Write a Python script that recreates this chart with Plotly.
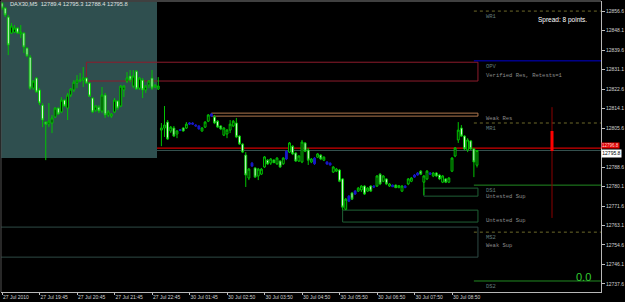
import plotly.graph_objects as go

# ---------------- data ----------------
opens = [12860.1, 12857.9, 12854.0, 12847.0, 12847.4, 12849.2, 12846.6, 12847.0, 12840.5, 12836.5,
         12823.0, 12827.4, 12822.2, 12815.6, 12808.2, 12807.3, 12807.8, 12810.4, 12814.3, 12812.6,
         12817.8, 12814.3, 12820.0, 12822.2, 12825.2, 12826.1, 12826.5, 12827.4, 12825.2, 12818.7,
         12813.4, 12814.7, 12813.0, 12820.0, 12811.3, 12810.8, 12812.6, 12817.4, 12815.2, 12822.2,
         12826.1, 12828.3, 12823.9, 12830.4, 12823.0, 12826.5, 12822.2, 12824.3, 12827.4, 12823.5,
         12822.6, 12804.7, 12805.6, 12808.2, 12804.3, 12805.6, 12803.0, 12804.9, 12805.6, 12805.6,
         12807.3, 12807.8, 12806.9, 12806.5, 12804.3, 12806.0, 12808.6, 12811.7, 12810.4, 12808.6,
         12806.5, 12802.5, 12803.0, 12804.7, 12806.5, 12807.8, 12802.1, 12798.6, 12793.8, 12783.8,
         12790.3, 12788.2, 12784.7, 12785.5, 12788.6, 12791.6, 12790.3, 12791.6, 12790.0, 12791.2,
         12790.0, 12792.1, 12795.1, 12797.7, 12794.7, 12791.2, 12790.8, 12799.1, 12796.0, 12790.8,
         12792.5, 12792.9, 12793.8, 12791.6, 12790.8, 12790.3, 12786.4, 12786.8, 12787.3, 12783.4,
         12770.2, 12773.7, 12777.3, 12778.1, 12778.1, 12778.6, 12780.3, 12778.1, 12780.3, 12780.3,
         12780.3, 12785.5, 12782.4, 12783.4, 12780.3, 12780.7, 12780.7, 12779.6, 12778.1, 12780.3,
         12781.2, 12782.4, 12784.2, 12785.1, 12786.8, 12782.0, 12783.4, 12786.0, 12784.7, 12786.0,
         12785.1, 12782.0, 12783.4, 12782.0, 12786.8, 12793.4, 12800.4, 12805.6, 12802.1, 12796.0,
         12800.0, 12796.5, 12789.4]
highs = [12860.5, 12858.3, 12854.9, 12851.4, 12850.5, 12849.6, 12850.5, 12847.4, 12840.9, 12837.4,
         12826.5, 12827.8, 12823.0, 12816.5, 12808.6, 12816.5, 12811.3, 12814.7, 12814.7, 12819.1,
         12818.2, 12820.9, 12823.0, 12826.5, 12828.7, 12829.6, 12832.2, 12827.8, 12825.6, 12819.1,
         12815.6, 12815.6, 12823.5, 12820.9, 12813.4, 12812.1, 12818.7, 12817.8, 12824.3, 12824.3,
         12830.0, 12830.9, 12830.9, 12830.9, 12827.8, 12827.4, 12824.3, 12826.5, 12830.9, 12824.7,
         12827.8, 12807.8, 12815.2, 12809.1, 12806.5, 12806.5, 12804.7, 12805.2, 12806.0, 12808.2,
         12808.2, 12808.2, 12807.3, 12806.9, 12806.0, 12808.6, 12811.7, 12812.1, 12811.3, 12809.1,
         12806.9, 12806.0, 12805.2, 12809.1, 12809.1, 12810.0, 12802.5, 12799.1, 12795.1, 12788.2,
         12790.8, 12788.6, 12788.2, 12788.2, 12793.4, 12792.1, 12792.5, 12792.0, 12792.9, 12791.6,
         12792.9, 12796.0, 12799.5, 12798.2, 12795.1, 12793.8, 12800.4, 12799.5, 12796.9, 12792.5,
         12792.9, 12794.7, 12794.2, 12793.3, 12791.2, 12790.6, 12789.0, 12788.2, 12787.7, 12783.8,
         12775.1, 12776.4, 12777.7, 12778.6, 12779.9, 12780.7, 12780.7, 12779.9, 12780.7, 12780.7,
         12785.1, 12786.0, 12785.1, 12783.8, 12781.6, 12781.0, 12781.0, 12780.7, 12780.7, 12780.7,
         12783.8, 12784.2, 12785.5, 12786.4, 12787.3, 12785.1, 12787.3, 12786.4, 12786.4, 12786.4,
         12785.5, 12785.1, 12783.8, 12784.2, 12792.9, 12797.3, 12808.2, 12806.9, 12802.5, 12801.2,
         12800.4, 12796.9, 12795.8]
lows = [12857.0, 12854.0, 12837.4, 12846.6, 12847.0, 12846.6, 12844.8, 12838.3, 12836.5, 12822.2,
        12822.2, 12820.9, 12815.6, 12806.0, 12791.6, 12806.0, 12803.4, 12810.0, 12811.3, 12812.1,
        12814.7, 12809.1, 12819.1, 12821.3, 12823.0, 12825.6, 12823.5, 12824.8, 12819.1, 12812.1,
        12812.6, 12812.1, 12812.1, 12810.0, 12810.4, 12810.0, 12812.1, 12813.4, 12814.7, 12819.1,
        12825.2, 12825.6, 12823.0, 12822.2, 12822.2, 12818.7, 12820.9, 12823.0, 12822.2, 12823.0,
        12822.2, 12797.7, 12801.7, 12800.4, 12803.4, 12801.7, 12801.2, 12804.3, 12804.0, 12805.2,
        12806.9, 12807.0, 12806.2, 12804.9, 12804.0, 12805.6, 12808.2, 12810.4, 12807.3, 12805.6,
        12804.7, 12802.1, 12801.2, 12803.4, 12806.0, 12801.2, 12798.2, 12794.7, 12779.9, 12782.9,
        12788.6, 12783.8, 12782.9, 12785.1, 12788.2, 12789.5, 12789.5, 12790.3, 12789.5, 12788.2,
        12789.5, 12791.6, 12794.7, 12793.8, 12790.8, 12790.8, 12790.3, 12795.1, 12789.5, 12790.3,
        12789.5, 12792.5, 12791.6, 12791.2, 12789.5, 12789.2, 12786.0, 12786.4, 12782.0, 12769.8,
        12769.8, 12773.3, 12774.2, 12776.4, 12777.7, 12777.7, 12776.4, 12777.7, 12777.7, 12779.4,
        12779.9, 12780.7, 12782.0, 12780.7, 12779.9, 12779.9, 12779.4, 12779.4, 12777.7, 12779.4,
        12780.7, 12782.0, 12783.9, 12784.8, 12785.1, 12776.4, 12782.9, 12785.1, 12784.2, 12784.2,
        12782.9, 12781.6, 12781.6, 12781.6, 12786.4, 12792.9, 12799.1, 12801.7, 12796.0, 12795.1,
        12796.0, 12784.2, 12788.4]
closes = [12857.9, 12854.9, 12841.8, 12850.1, 12849.2, 12847.0, 12847.4, 12840.9, 12837.0, 12823.0,
          12826.1, 12821.3, 12816.5, 12809.1, 12807.3, 12808.6, 12810.0, 12814.3, 12811.7, 12817.8,
          12815.2, 12820.0, 12822.6, 12825.6, 12826.5, 12826.5, 12827.4, 12825.2, 12819.5, 12812.6,
          12815.2, 12813.0, 12820.0, 12811.3, 12812.6, 12811.7, 12817.8, 12814.3, 12823.9, 12823.9,
          12827.4, 12826.5, 12828.3, 12822.6, 12827.4, 12822.2, 12823.9, 12826.1, 12823.0, 12824.3,
          12823.9, 12805.6, 12806.9, 12800.8, 12806.0, 12802.1, 12804.3, 12804.5, 12804.3, 12807.3,
          12807.8, 12807.3, 12806.5, 12805.2, 12805.6, 12808.2, 12811.3, 12810.8, 12807.8, 12806.0,
          12805.2, 12805.6, 12804.7, 12807.3, 12808.6, 12801.7, 12798.6, 12795.1, 12785.1, 12787.7,
          12789.0, 12784.2, 12787.7, 12787.7, 12793.0, 12789.9, 12792.1, 12790.5, 12792.5, 12788.6,
          12792.5, 12795.5, 12799.1, 12794.3, 12791.2, 12793.4, 12799.5, 12795.5, 12791.6, 12792.1,
          12790.0, 12794.3, 12792.1, 12792.9, 12789.9, 12789.5, 12788.6, 12787.7, 12782.4, 12771.1,
          12774.6, 12775.9, 12774.6, 12776.8, 12779.4, 12780.3, 12776.8, 12779.4, 12778.1, 12779.9,
          12784.7, 12781.2, 12784.7, 12781.2, 12781.2, 12780.0, 12779.6, 12780.5, 12780.3, 12779.6,
          12783.4, 12783.8, 12785.1, 12786.0, 12785.5, 12784.7, 12786.8, 12785.5, 12786.0, 12784.7,
          12783.4, 12784.7, 12782.0, 12783.8, 12792.5, 12796.9, 12804.7, 12802.1, 12796.5, 12800.4,
          12796.5, 12790.8, 12795.8]
blue_bars = [57, 60, 61, 62, 63, 67, 80, 91, 100, 104, 105, 111, 113, 119, 125, 129, 132, 133, 137]

time_labels = ["27 Jul 2010", "27 Jul 19:45", "27 Jul 20:45", "27 Jul 21:45", "27 Jul 22:45",
               "30 Jul 01:45", "30 Jul 02:50", "30 Jul 03:50", "30 Jul 04:50", "30 Jul 05:50",
               "30 Jul 06:50", "30 Jul 07:50", "30 Jul 08:50"]
label_bars = [0, 12, 24, 36, 48, 60, 72, 84, 96, 108, 120, 132, 144]
# 12797.1 is hidden under the price tags in the reference
price_ticks = [12856.6, 12848.1, 12839.6, 12831.1, 12822.6, 12814.1, 12805.6,
               12788.6, 12780.1, 12771.6, 12763.1, 12754.6, 12746.1, 12737.6]

# supply / demand zones
zone_names = ["Verified Res, Retests=1", "Weak Res", "Untested Sup", "Untested Sup", "Weak Sup"]
zone_lo = [12826.1, 12810.8, 12775.9, 12764.6, 12749.3]
zone_hi = [12834.3, 12812.1, 12779.4, 12769.8, 12762.4]
zone_start = [27, 67, 135, 109, -3]
zone_label_price = [12828.7, 12809.9, 12775.6, 12765.3, 12754.4]

# pivots
pivot_names = ["WR1", "OPV", "MR1", "DS1", "MS2", "DS2"]
pivot_levels = [12856.6, 12834.9, 12807.8, 12780.7, 12760.2, 12738.9]

# session box (previous day)
session_end_bar = 49.6
session_low = 12792.5

# current prices / projection bar
bid = 12795.8
ask = 12796.8
proj_bar = 176
proj_range = [12766.4, 12814.7]
proj_body = [12795.6, 12804.3]

# ---------------- styles ----------------
GREEN = "#00C400"
BLUE = "#1818C8"
zone_colors = ["#8E1B2C", "#B0784E", "#1F6035", "#1F6035", "#2E4A45"]
pivot_colors = ["#6E6A2A", "#0000D0", "#6E6A2A", "#228B22", "#6E6A2A", "#228B22"]
pivot_dash = ["dot", "solid", "dot", "solid", "dot", "solid"]

n = len(opens)
bars = list(range(n))
norm = [i for i in bars if i not in blue_bars]

fig = go.Figure()

fig.add_trace(go.Candlestick(
    x=norm, open=[opens[i] for i in norm], high=[highs[i] for i in norm],
    low=[lows[i] for i in norm], close=[closes[i] for i in norm],
    increasing=dict(line=dict(color=GREEN, width=1), fillcolor="black"),
    decreasing=dict(line=dict(color=GREEN, width=1), fillcolor="white"),
    whiskerwidth=0, hoverinfo="skip", showlegend=False))
fig.add_trace(go.Candlestick(
    x=blue_bars, open=[opens[i] for i in blue_bars], high=[highs[i] for i in blue_bars],
    low=[lows[i] for i in blue_bars], close=[closes[i] for i in blue_bars],
    increasing=dict(line=dict(color=BLUE, width=1), fillcolor=BLUE),
    decreasing=dict(line=dict(color=BLUE, width=1), fillcolor=BLUE),
    whiskerwidth=0, hoverinfo="skip", showlegend=False))

# projection bar
fig.add_trace(go.Scatter(x=[proj_bar, proj_bar], y=proj_range, mode="lines",
                         line=dict(color="#8B0000", width=1), hoverinfo="skip", showlegend=False))
fig.add_trace(go.Scatter(x=[proj_bar, proj_bar], y=proj_body, mode="lines",
                         line=dict(color="#FF0000", width=3), hoverinfo="skip", showlegend=False))

shapes = []
shapes.append(dict(type="rect", xref="x", yref="y", x0=-5, x1=session_end_bar,
                   y0=session_low, y1=12870, fillcolor="#2F4F4F", line=dict(width=0), layer="below"))
last_edge = n - 1 + 0.3
for name, lo, hi, st, col in zip(zone_names, zone_lo, zone_hi, zone_start, zone_colors):
    shapes.append(dict(type="rect", xref="x", yref="y", x0=st, x1=last_edge, y0=lo, y1=hi,
                       line=dict(color=col, width=1), fillcolor="rgba(0,0,0,0)", layer="below"))
for lvl, col, d in zip(pivot_levels, pivot_colors, pivot_dash):
    shapes.append(dict(type="line", xref="x", yref="y", x0=n - 2, x1=200, y0=lvl, y1=lvl,
                       line=dict(color=col, width=1, dash=d), layer="below"))
shapes.append(dict(type="line", xref="paper", yref="y", x0=0, x1=1, y0=bid, y1=bid,
                   line=dict(color="#34504E", width=1), layer="below"))
shapes.append(dict(type="line", xref="paper", yref="y", x0=0, x1=1, y0=ask, y1=ask,
                   line=dict(color="#D00000", width=1.3), layer="below"))
shapes.append(dict(type="line", xref="paper", yref="paper", x0=0, x1=1, y0=1, y1=1,
                   line=dict(color="#404040", width=2)))
shapes.append(dict(type="line", xref="paper", yref="paper", x0=0, x1=0, y0=0, y1=1,
                   line=dict(color="#505050", width=1)))

ann = []
for name, yl in zip(zone_names, zone_label_price):
    ann.append(dict(x=154.3, y=yl, xref="x", yref="y", text=name, showarrow=False,
                    xanchor="left", yanchor="middle",
                    font=dict(family="Liberation Mono", size=5.5, color="#8C8C8C")))
for name, lvl in zip(pivot_names, pivot_levels):
    ann.append(dict(x=154.3, y=lvl, xref="x", yref="y", text=name, showarrow=False,
                    xanchor="left", yanchor="top", yshift=0,
                    font=dict(family="Liberation Mono", size=5.5, color="#607C7C")))

header = "DAX30,M5  %.1f %.1f %.1f %.1f" % (12789.4, 12795.3, 12788.4, 12795.8)
ann.append(dict(x=0.012, y=0.988, xref="paper", yref="paper", text=header, showarrow=False,
                xanchor="left", yanchor="middle",
                font=dict(family="Liberation Sans", size=5.7, color="#E0E0E0")))
ann.append(dict(x=0.98, y=0.935, xref="paper", yref="paper", text="Spread: 8 points.",
                showarrow=False, xanchor="right", yanchor="middle",
                font=dict(family="Liberation Sans", size=6.5, color="#FFFFFF")))
ann.append(dict(x=0.987, y=0.052, xref="paper", yref="paper", text="0.0",
                showarrow=False, xanchor="right", yanchor="middle",
                font=dict(family="Liberation Sans", size=11, color="#32CD32")))
ann.append(dict(x=1.0, y=ask, xref="paper", yref="y", text="%.1f" % ask, showarrow=False,
                xanchor="left", yanchor="bottom", yshift=-1, bgcolor="#E00000", borderpad=0,
                font=dict(family="Liberation Sans", size=4.5, color="#FFD0D0")))
ann.append(dict(x=1.0, y=bid, xref="paper", yref="y", text="%.1f" % bid, showarrow=False,
                xanchor="left", yanchor="top", yshift=2, bgcolor="#FFFFFF", borderpad=0.3,
                font=dict(family="Liberation Sans", size=5, color="#000000")))

fig.update_layout(
    width=625, height=302, margin=dict(l=1, r=24, t=1, b=10),
    paper_bgcolor="black", plot_bgcolor="black", showlegend=False,
    boxgap=0.15,
    shapes=shapes, annotations=ann,
    xaxis=dict(range=[-0.32, 191.68], tickvals=label_bars, ticktext=time_labels,
               ticklabelposition="outside right", ticks="outside", ticklen=2,
               tickcolor="#C0C0C0", tickfont=dict(family="Liberation Sans", size=5, color="#D0D0D0"),
               showgrid=False, zeroline=False, showline=True, linecolor="#B8B8B8",
               rangeslider=dict(visible=False), fixedrange=True),
    yaxis=dict(range=[12734.1, 12861.0], side="right", tickvals=price_ticks,
               ticktext=["%.1f" % v for v in price_ticks], ticks="outside", ticklen=3,
               tickcolor="#C0C0C0", tickfont=dict(family="Liberation Sans", size=5, color="#D0D0D0"),
               showgrid=False, zeroline=False, showline=True, linecolor="#B8B8B8", fixedrange=True),
)

fig.write_html("out.html")
